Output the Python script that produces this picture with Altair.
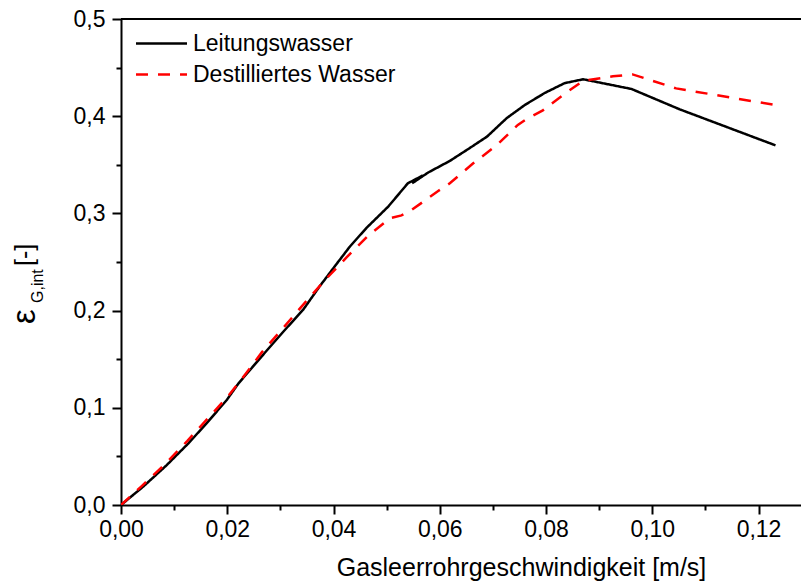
import altair as alt
import pandas as pd

series_names = ["Leitungswasser", "Destilliertes Wasser"]

# Leitungswasser (tap water)
lw_x = [0.0000, 0.0042, 0.0086, 0.0127, 0.0161, 0.0199, 0.0221, 0.0265, 0.0305,
        0.0343, 0.0374, 0.0403, 0.0431, 0.0462, 0.0503, 0.0540, 0.0568, 0.0548,
        0.0578, 0.0619, 0.0653, 0.0689, 0.0726, 0.0760, 0.0798, 0.0835, 0.0870,
        0.0961, 0.1052, 0.1232]
lw_y = [0.000, 0.019, 0.041, 0.0635, 0.084, 0.108, 0.125, 0.153, 0.178,
        0.201, 0.225, 0.246, 0.266, 0.285, 0.307, 0.331, 0.339, 0.331,
        0.342, 0.354, 0.366, 0.379, 0.398, 0.4115, 0.424, 0.434, 0.438,
        0.428, 0.407, 0.370]

# Destilliertes Wasser (distilled water)
dw_x = [0.0000, 0.0040, 0.0083, 0.0125, 0.0160, 0.0200, 0.0225, 0.0265, 0.0305,
        0.0346, 0.0385, 0.0425, 0.0465, 0.0506, 0.0528, 0.0547, 0.0597, 0.0619,
        0.0663, 0.0707, 0.0747, 0.0766, 0.0794, 0.0835, 0.0870, 0.0926, 0.0963,
        0.1045, 0.1232]
dw_y = [0.000, 0.020, 0.042, 0.066, 0.087, 0.111, 0.128, 0.157, 0.182,
        0.208, 0.232, 0.255, 0.277, 0.295, 0.298, 0.3035, 0.323, 0.331,
        0.3515, 0.370, 0.391, 0.398, 0.406, 0.423, 0.4365, 0.441, 0.443,
        0.4286, 0.4115]

x_ticks = [0.00, 0.01, 0.02, 0.03, 0.04, 0.05, 0.06, 0.07, 0.08, 0.09, 0.10, 0.11, 0.12]
y_ticks = [0.00, 0.05, 0.10, 0.15, 0.20, 0.25, 0.30, 0.35, 0.40, 0.45, 0.50]

rows = []
for i, (a, b) in enumerate(zip(lw_x, lw_y)):
    rows.append({"v": a, "e": b, "s": series_names[0], "i": i})
for i, (a, b) in enumerate(zip(dw_x, dw_y)):
    rows.append({"v": a, "e": b, "s": series_names[1], "i": i})
df = pd.DataFrame(rows)

FONT = "Liberation Sans"

legend_kw = dict(
    title=None, orient="none", legendX=29, legendY=13,
    symbolType="M-5,0H5", symbolSize=104, symbolStrokeWidth=2.5,
    labelFont=FONT, labelFontSize=23, labelColor="black", labelOffset=20,
    labelLimit=0, rowPadding=7, padding=0,
)

lines = alt.Chart(df).mark_line(strokeWidth=2.5, clip=True).encode(
    x=alt.X("v:Q",
            scale=alt.Scale(domain=[0, 0.128], nice=False, zero=False),
            axis=alt.Axis(values=x_ticks,
                          title="Gasleerrohrgeschwindigkeit [m/s]",
                          titleX=400, titleY=70, titleBaseline="alphabetic",
                          labelExpr="round(datum.value*100)%2==0 ? replace(format(datum.value,'.2f'),'.',',') : ''",
                          tickSize={"condition": {"test": "round(datum.value*100)%2==0", "value": 9}, "value": 5},
                          labelFlush=False, labelPadding=4)),
    y=alt.Y("e:Q",
            scale=alt.Scale(domain=[0, 0.5], nice=False),
            axis=alt.Axis(values=y_ticks, title=None,
                          labelExpr="round(datum.value*20)%2==0 ? replace(format(datum.value,'.1f'),'.',',') : ''",
                          tickSize={"condition": {"test": "round(datum.value*20)%2==0", "value": 9}, "value": 5},
                          labelFlush=False, labelPadding=7)),
    color=alt.Color("s:N", scale=alt.Scale(domain=series_names, range=["black", "red"]),
                    legend=alt.Legend(**legend_kw)),
    strokeDash=alt.StrokeDash("s:N", scale=alt.Scale(domain=series_names, range=[[1, 0], [12, 10]]),
                              legend=alt.Legend(**legend_kw)),
    order="i:Q",
)

top_border = alt.Chart(pd.DataFrame({"k": [0]})).mark_rule(color="black", strokeWidth=2).encode(
    x=alt.value(0), x2=alt.value(680), y=alt.value(0)
)

yt_eps = alt.Chart(pd.DataFrame({"t": ["ε"]})).mark_text(
    angle=270, align="left", baseline="alphabetic", font=FONT, fontSize=33, color="black"
).encode(x=alt.value(-86), y=alt.value(305), text="t:N")
yt_sub = alt.Chart(pd.DataFrame({"t": ["G,int"]})).mark_text(
    angle=270, align="left", baseline="alphabetic", font=FONT, fontSize=16, color="black"
).encode(x=alt.value(-78), y=alt.value(284), text="t:N")
yt_unit = alt.Chart(pd.DataFrame({"t": ["[-]"]})).mark_text(
    angle=270, align="left", baseline="alphabetic", font=FONT, fontSize=25, color="black"
).encode(x=alt.value(-88), y=alt.value(247), text="t:N")

chart = alt.layer(lines, top_border, yt_eps, yt_sub, yt_unit).properties(
    width=680, height=486,
    autosize=alt.AutoSizeParams(type="none"),
    padding={"left": 121, "top": 19, "right": 0, "bottom": 77},
).configure_view(stroke=None).configure_axis(
    grid=False, domainColor="black", domainWidth=2, tickColor="black", tickWidth=2,
    labelFont=FONT, labelFontSize=23, labelColor="black",
    titleFont=FONT, titleFontSize=25, titleColor="black", titleFontWeight="normal",
)

chart.save("out.html", embed_options={"renderer": "svg", "actions": False})
